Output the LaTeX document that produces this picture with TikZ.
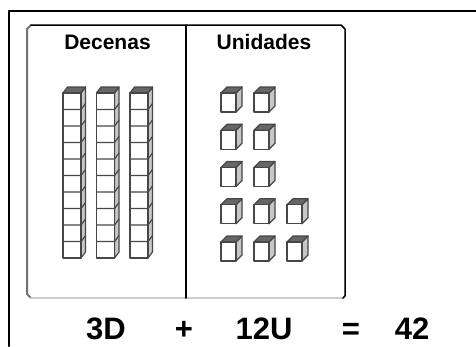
\documentclass[tikz,border=0pt]{standalone}
\usepackage{fontspec}
\setmainfont{Liberation Sans}

\tikzset{
  arista/.style={draw=black!72,line width=1.2pt},
  tapa/.style={arista,fill=black!60},
  lado/.style={arista,fill=black!22},
  titulo/.style={font=\fontsize{21}{24}\selectfont\bfseries,inner sep=0pt,anchor=base},
  cuenta/.style={font=\fontsize{31}{34}\selectfont\bfseries,inner sep=0pt,anchor=base},
  % one unit cube, origin at the front top left corner
  cubo/.pic={
    \draw[lado] (15,0) -- (21,-6) -- (21,13) -- (15,19) -- cycle;
    \draw[tapa] (0,0) -- (6,-6) -- (21,-6) -- (15,0) -- cycle;
    \draw[arista,fill=white] (0,0) rectangle (15,19);
  },
  % a rod of ten cubes
  barra/.pic={
    \draw[lado] (18,0) -- (22.5,-6) -- (22.5,159) -- (18,165) -- cycle;
    \draw[tapa] (0,0) -- (4.5,-6) -- (22.5,-6) -- (18,0) -- cycle;
    \draw[arista,fill=white] (0,0) rectangle (18,165);
    \foreach \k in {1,...,9}
      \draw[arista] (0,\k*16.5) -- (18,\k*16.5) -- (22.5,\k*16.5-6);
  }
}

\begin{document}
\begin{tikzpicture}[x=1pt,y=-1pt,line join=round,line cap=round]
  \useasboundingbox (0,0) rectangle (476,346);
  \fill[white] (0,0) rectangle (476,346);

  % outer frame, only top and left show
  \draw[line width=2pt] (476,11) -- (9,11) -- (9,346);

  % the place value board
  \draw[black!55,line width=2pt] (31,25) -- (27,29) -- (27,294) -- (31,298);
  \draw[black!20,line width=2pt] (31,298) -- (343,298);
  \draw[line width=1.5pt] (31,25) -- (341,25) -- (345,29) -- (345,296) -- (343,298);
  \draw[line width=1.5pt] (186,25) -- (186,298);

  \node[titulo] (decenas) at (107.5,49) {Decenas};
  \node[titulo] (unidades) at (264,49) {Unidades};

  % tens
  \foreach \x in {63,96.5,130}
    \pic at (\x,93) {barra};

  % units
  \foreach \y in {93,130.25,167.5}
    \foreach \x in {221,254}
      \pic at (\x,\y) {cubo};
  \foreach \y in {204.75,242}
    \foreach \x in {221,254,287}
      \pic at (\x,\y) {cubo};

  \node[cuenta] (tresD) at (106,339) {3D};
  \node[cuenta] (mas) at (184,339) {+};
  \node[cuenta] (doceU) at (264,339) {12U};
  \node[cuenta] (igual) at (351,339) {=};
  \node[cuenta] (total) at (412,339) {42};
\end{tikzpicture}
\end{document}
